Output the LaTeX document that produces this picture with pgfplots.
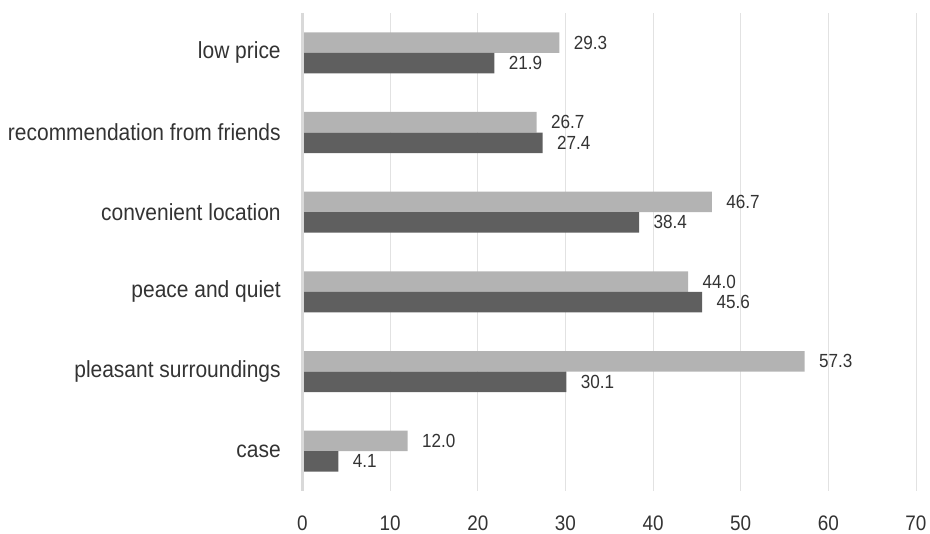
\documentclass[border=0pt]{standalone}
\usepackage{pgfplots}
\pgfplotsset{compat=1.18}
\usepackage{fontspec}
\setmainfont{Liberation Sans}[FakeStretch=0.9]
\definecolor{lightbar}{HTML}{B3B3B3}
\definecolor{darkbar}{HTML}{5F5F5F}
\definecolor{txt}{HTML}{333333}
\definecolor{gridc}{HTML}{E2E2E2}
\definecolor{zeroline}{HTML}{D9D9D9}
\begin{document}
\begin{tikzpicture}
\begin{axis}[
  name=ax,
  scale only axis,
  width=613.5pt, height=478pt,
  xbar=0pt,
  bar width=20.5pt,
  xmin=0, xmax=70,
  ymin=-0.5, ymax=5.5,
  y dir=reverse,
  xtick={0,10,...,70},
  ytick={0,1,2,3,4,5},
  yticklabels={low price,recommendation from friends,convenient location,peace and quiet,pleasant surroundings,case},
  axis line style={draw=none},
  tick style={draw=none},
  xmajorgrids,
  major grid style={color=gridc, line width=0.8pt},
  /pgf/number format/assume math mode=true,
  xticklabel style={font=\fontsize{21}{25}\selectfont, text=txt, yshift=-21pt},
  yticklabel style={font=\fontsize{23.3}{27}\selectfont, text=txt, xshift=-14pt},
  nodes near coords,
  nodes near coords style={font=\fontsize{19}{22}\selectfont, text=txt, anchor=west, xshift=11pt,
    /pgf/number format/.cd, fixed, fixed zerofill, precision=1},
  clip=false,
]
\addplot[fill=lightbar, draw=none, bar shift=10.25pt] coordinates {
 (29.3,0) (26.7,1) (46.7,2) (44.0,3) (57.3,4) (12.0,5)};
\addplot[fill=darkbar, draw=none, bar shift=-10.25pt] coordinates {
 (21.9,0) (27.4,1) (38.4,2) (45.6,3) (30.1,4) (4.1,5)};
\draw[color=zeroline, line width=3pt] (axis cs:0,-0.5) -- (axis cs:0,5.5);
\end{axis}
\pgfresetboundingbox
\path[use as bounding box] ([shift={(-302.5pt,-43pt)}]ax.south west) rectangle ([shift={(14pt,13pt)}]ax.north east);
\end{tikzpicture}
\end{document}
